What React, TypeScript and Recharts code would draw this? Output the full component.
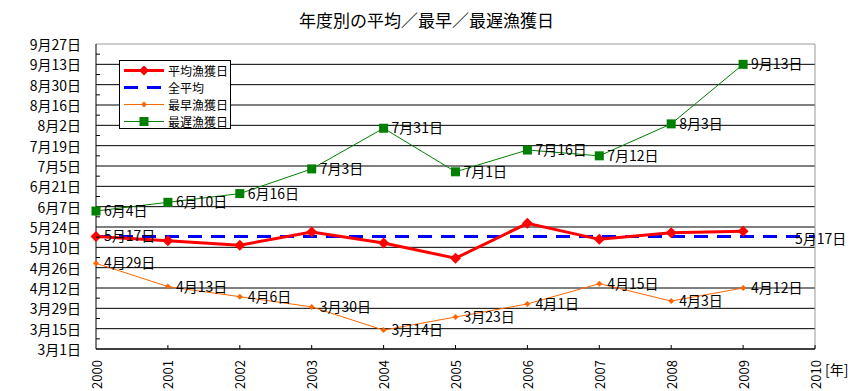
import React from 'react';
import { LineChart, Line, XAxis, YAxis, ReferenceLine, Legend, LabelList } from 'recharts';

// days counted from 3月1日
const years = [2000, 2001, 2002, 2003, 2004, 2005, 2006, 2007, 2008, 2009];
const averageDays = [77.5, 74.5, 71.5, 80.5, 73, 62.5, 86.5, 75.5, 80, 81];
const earliestDays = [59, 43, 36, 29, 13, 22, 31, 45, 33, 42];
const latestDays = [95, 101, 107, 124, 152, 122, 137, 133, 155, 196];
const overallAverage = 77.5;

const yearTicks = [2000, 2001, 2002, 2003, 2004, 2005, 2006, 2007, 2008, 2009, 2010];
const dayTicks = [0, 7, 14, 21, 28, 35, 42, 49, 56, 63, 70, 77, 84, 91, 98, 105, 112, 119, 126, 133, 140, 147, 154, 161, 168, 175, 182, 189, 196, 203, 210];
const majorDays = [0, 14, 28, 42, 56, 70, 84, 98, 112, 126, 140, 154, 168, 182, 196, 210];
const monthLengths = [31, 30, 31, 30, 31, 31, 30];

const FONT = '"Noto Sans CJK JP", "Noto Sans", sans-serif';
const RED = '#FF0000';
const BLUE = '#0000FF';
const ORANGE = '#FF6600';
const GREEN = '#008000';

const toDate = (v: number) => {
  let d = Math.floor(v);
  let m = 0;
  while (m < monthLengths.length - 1 && d >= monthLengths[m]) {
    d -= monthLengths[m];
    m++;
  }
  return `${m + 3}月${d + 1}日`;
};

const data = years.map((year, i) => ({
  year,
  average: averageDays[i],
  averageLabel: i === 0 ? averageDays[i] : null,
  earliest: earliestDays[i],
  latest: latestDays[i],
}));

const Diamond = ({ cx, cy, r, color }: any) => (
  <polygon points={`${cx},${cy - r} ${cx + r},${cy} ${cx},${cy + r} ${cx - r},${cy}`} fill={color} />
);

const Square = ({ cx, cy, r, color }: any) => (
  <rect x={cx - r} y={cy - r} width={r * 2} height={r * 2} fill={color} />
);

const YTick = ({ x, y, payload }: any) => {
  const v = payload.value;
  if (v % 14 !== 0) {
    return <line x1={x} x2={x + 4} y1={y} y2={y} stroke="#000" />;
  }
  return (
    <text x={x - 15} y={y} textAnchor="end" dominantBaseline="central" fontSize={14} fontFamily={FONT} fill="#000">
      {toDate(v)}
    </text>
  );
};

const XTick = ({ x, y, payload }: any) => {
  const ty = y + 11;
  return (
    <g>
      {payload.value !== yearTicks[0] && <line x1={x} x2={x} y1={y - 4} y2={y} stroke="#000" />}
      <text
        x={x}
        y={ty}
        transform={`rotate(-90, ${x}, ${ty})`}
        textAnchor="end"
        dominantBaseline="central"
        fontSize={13}
        fontFamily={FONT}
        fill="#000"
      >
        {payload.value}
      </text>
    </g>
  );
};

const legendRows = [
  { name: '平均漁獲日', color: RED, width: 3, marker: 'bigDiamond', dash: undefined },
  { name: '全平均', color: BLUE, width: 3, marker: 'none', dash: '14 9' },
  { name: '最早漁獲日', color: ORANGE, width: 1, marker: 'smallDiamond', dash: undefined },
  { name: '最遅漁獲日', color: GREEN, width: 1, marker: 'square', dash: undefined },
];

const LegendBox = () => (
  <div style={{ border: '1px solid #000', background: '#fff', width: 110, height: 66, paddingTop: 1, boxSizing: 'content-box' }}>
    {legendRows.map((row) => (
      <div key={row.name} style={{ display: 'flex', alignItems: 'center', height: 17, whiteSpace: 'nowrap' }}>
        <svg width={48} height={17} style={{ flex: 'none' }}>
          <line x1={4} x2={44} y1={8.5} y2={8.5} stroke={row.color} strokeWidth={row.width} strokeDasharray={row.dash} />
          {row.marker === 'bigDiamond' && <Diamond cx={24} cy={8.5} r={5} color={row.color} />}
          {row.marker === 'smallDiamond' && <Diamond cx={24} cy={8.5} r={3} color={row.color} />}
          {row.marker === 'square' && <Square cx={24} cy={8.5} r={4.5} color={row.color} />}
        </svg>
        <span style={{ fontSize: 12, fontFamily: FONT, color: '#000', lineHeight: '17px' }}>{row.name}</span>
      </div>
    ))}
  </div>
);

const OverallLabel = ({ viewBox }: any) => (
  <text
    x={viewBox.x + viewBox.width - 20}
    y={viewBox.y + 2}
    dominantBaseline="central"
    fontSize={14}
    fontFamily={FONT}
    fill="#000"
  >
    {toDate(overallAverage)}
  </text>
);

const labelStyle = { fontSize: 14, fontFamily: FONT, fill: '#000' };

export default function App() {
  return (
    <div style={{ position: 'absolute', left: 0, top: 0, width: 853, height: 391, background: '#fff', fontFamily: FONT }}>
      <div style={{ position: 'absolute', top: 10, left: 0, width: 853, textAlign: 'center', fontSize: 17, lineHeight: '20px', color: '#000' }}>
        年度別の平均／最早／最遅漁獲日
      </div>
      <LineChart width={853} height={391} data={data} margin={{ top: 44, right: 38, bottom: 0, left: 0 }}>
        <XAxis
          dataKey="year"
          type="number"
          domain={[2000, 2010]}
          ticks={yearTicks}
          height={42}
          tick={<XTick />}
          tickLine={false}
          tickSize={0}
          tickMargin={0}
          stroke="#000"
          interval={0}
          label={{ value: '[年]', position: 'right', offset: 10, fontSize: 14, fontFamily: FONT, fill: '#000' }}
        />
        <YAxis
          type="number"
          domain={[0, 210]}
          ticks={dayTicks}
          width={96}
          tick={<YTick />}
          tickLine={false}
          tickSize={0}
          tickMargin={0}
          stroke="#000"
          interval={0}
        />
        {majorDays.map((d) => (
          <ReferenceLine key={d} y={d} stroke={d === 210 ? '#999' : '#000'} strokeWidth={1} />
        ))}
        <ReferenceLine x={2010} stroke="#999" />
        <ReferenceLine
          y={overallAverage}
          stroke={BLUE}
          strokeWidth={3}
          strokeDasharray="14 9"
          label={<OverallLabel />}
        />
        <Legend
          layout="vertical"
          align="center"
          verticalAlign="middle"
          wrapperStyle={{ left: 119, top: 60, width: 112 }}
          content={<LegendBox />}
        />
        <Line
          dataKey="latest"
          stroke={GREEN}
          strokeWidth={1}
          isAnimationActive={false}
          dot={(p: any) => <Square key={`l${p.index}`} cx={p.cx} cy={p.cy} r={4.5} color={GREEN} />}
          activeDot={false}
        >
          <LabelList dataKey="latest" position="right" offset={8} formatter={(v: any) => toDate(v)} style={labelStyle} />
        </Line>
        <Line
          dataKey="earliest"
          stroke={ORANGE}
          strokeWidth={1}
          isAnimationActive={false}
          dot={(p: any) => <Diamond key={`e${p.index}`} cx={p.cx} cy={p.cy} r={3} color={ORANGE} />}
          activeDot={false}
        >
          <LabelList dataKey="earliest" position="right" offset={8} formatter={(v: any) => toDate(v)} style={labelStyle} />
        </Line>
        <Line
          dataKey="average"
          stroke={RED}
          strokeWidth={3}
          isAnimationActive={false}
          dot={(p: any) => <Diamond key={`a${p.index}`} cx={p.cx} cy={p.cy} r={5.5} color={RED} />}
          activeDot={false}
        >
          <LabelList dataKey="averageLabel" position="right" offset={8} formatter={(v: any) => (v == null ? '' : toDate(v))} style={labelStyle} />
        </Line>
      </LineChart>
    </div>
  );
}
